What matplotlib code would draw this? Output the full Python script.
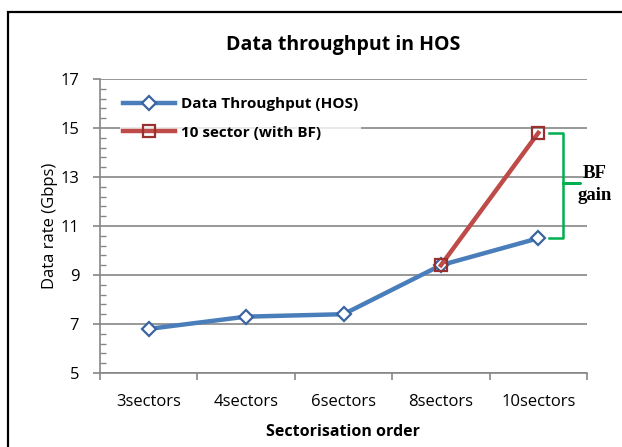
import matplotlib.pyplot as plt
from matplotlib.patches import Rectangle
from matplotlib.ticker import FixedLocator

categories = ['3sectors', '4sectors', '6sectors', '8sectors', '10sectors']
hos = [6.8, 7.3, 7.4, 9.4, 10.5]
bf_idx = [3, 4]
bf = [9.4, 14.8]
yticks = [5, 7, 9, 11, 13, 15, 17]

plt.rcParams['font.family'] = ['Open Sans', 'DejaVu Sans']

fig = plt.figure(figsize=(6.22, 4.47), dpi=100)
ax = fig.add_axes([100 / 622, 1 - 373 / 447, 487 / 622, 294 / 447])

x = list(range(len(categories)))
ax.plot(x, hos, color='#4a7ebb', lw=3.2, marker='D', ms=7,
        mfc='white', mec='#3a64a0', mew=1.6, label='Data Throughput (HOS)', zorder=3)
ax.plot(bf_idx, bf, color='#be4b48', lw=3.2, marker='s', ms=8,
        mfc='none', mec='#98302d', mew=1.6, label='10 sector (with BF)', zorder=4)

ax.set_xlim(-0.5, 4.5)
ax.set_ylim(5, 17)
ax.set_xticks(x)
ax.set_xticklabels(categories, fontsize=12)
ax.xaxis.set_minor_locator(FixedLocator([i + 0.5 for i in range(-1, 5)]))
ax.tick_params(axis='x', which='major', length=0, pad=15)
ax.tick_params(axis='x', which='minor', length=5, color='#868686', width=1.2)
ax.set_yticks(yticks)
ax.yaxis.set_minor_locator(FixedLocator([5 + 0.4 * i for i in range(31)]))
ax.tick_params(axis='y', which='major', length=5, color='#868686', width=1.2,
               labelsize=12, pad=10)
ax.tick_params(axis='y', which='minor', direction='in', length=4, color='#868686', width=1)
ax.grid(True, axis='y', which='major', color='#868686', lw=1.2)
for s in ['top', 'right']:
    ax.spines[s].set_visible(False)
for s in ['left', 'bottom']:
    ax.spines[s].set_color('#868686')
    ax.spines[s].set_linewidth(1.2)

ax.set_xlabel('Sectorisation order', fontsize=11.5, fontweight='bold', labelpad=10)
ax.set_ylabel('Data rate (Gbps)', fontsize=12, labelpad=2)
ax.set_title('Data throughput in HOS', fontsize=14, fontweight='bold', pad=21)

leg = ax.legend(loc='upper left', bbox_to_anchor=(0.025, 0.975), frameon=True,
                handlelength=3.4, handletextpad=0.4, borderpad=0.2, labelspacing=0.95,
                prop={'weight': 'bold', 'size': 11})
leg.get_frame().set_edgecolor('none')
leg.get_frame().set_facecolor('white')

# BF gain bracket
bx0, bx1, bxm = 4.11, 4.25, 4.43
ytop, ybot = bf[1], hos[4]
ymid = 12.76
ax.plot([bx0, bx1, bx1, bxm, bx1, bx1, bx0],
        [ytop, ytop, ymid, ymid, ymid, ybot, ybot],
        color='#00b050', lw=1.8, clip_on=False, zorder=5)
ax.text(4.58, 12.7, 'BF\ngain', ha='center', va='center', fontsize=13.5,
        fontweight='bold', family='Liberation Serif', linespacing=1.35)

fig.patches.append(Rectangle((8 / 622, -0.1), 1.0, 1 - 12 / 447 + 0.1, transform=fig.transFigure,
                             fill=False, edgecolor='black', lw=1.6))

fig.savefig('out.png', dpi=100)
